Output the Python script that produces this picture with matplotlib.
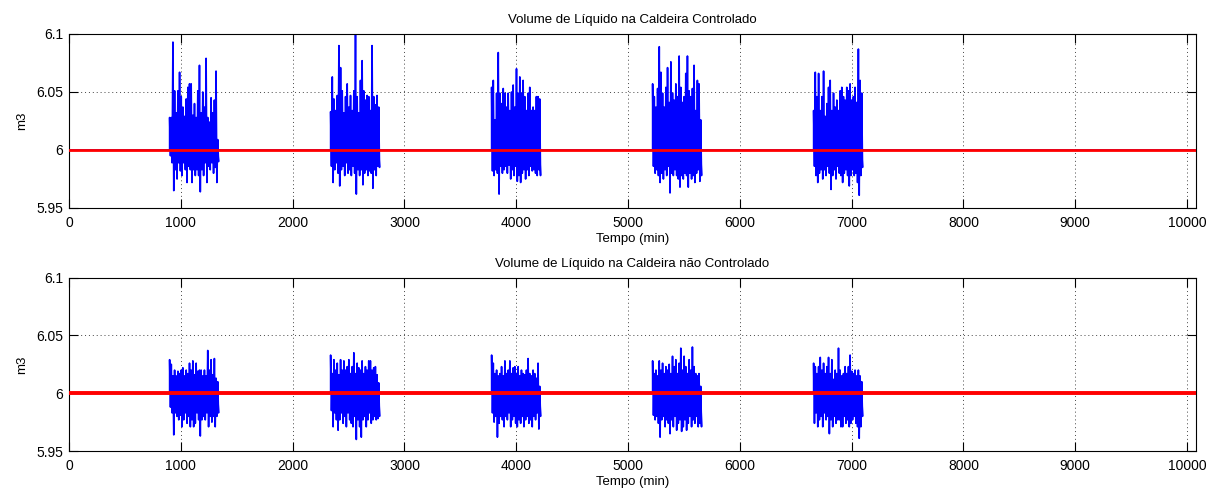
import numpy as np
import matplotlib
matplotlib.use("Agg")
import matplotlib.pyplot as plt

# ---------------- data ----------------
setpoint = 6.0
t_end = 10080
burst_starts = [900, 2340, 3780, 5220, 6660]
burst_len = [430, 430, 430, 430, 430]

# controlled (top) - upper / lower envelope read per burst
ctrl_b1_hi = [6.028, 6.028, 6.093, 6.051, 6.032, 6.051, 6.067, 6.046, 6.037, 6.029, 6.044, 6.054, 6.057, 6.057, 6.030,
              6.040, 6.028, 6.051, 6.073, 6.032, 6.050, 6.037, 6.079, 6.028, 6.024, 6.045, 6.032, 6.043, 6.068, 6.009]
ctrl_b1_lo = [5.995, 5.989, 5.965, 5.983, 5.975, 5.989, 5.982, 5.978, 5.989, 5.983, 5.972, 5.986, 5.983, 5.972, 5.983,
              5.978, 5.983, 5.978, 5.964, 5.983, 5.978, 5.989, 5.972, 5.986, 5.983, 5.989, 5.980, 5.985, 5.972, 5.990]
ctrl_b2_hi = [6.033, 6.063, 6.044, 6.034, 6.047, 6.090, 6.071, 6.051, 6.032, 6.046, 6.057, 6.037, 6.047, 6.034, 6.051,
              6.100, 6.046, 6.032, 6.060, 6.077, 6.051, 6.043, 6.047, 6.046, 6.034, 6.090, 6.046, 6.039, 6.047, 6.037]
ctrl_b2_lo = [5.986, 5.972, 5.983, 5.989, 5.980, 5.969, 5.983, 5.986, 5.978, 5.989, 5.980, 5.983, 5.978, 5.986, 5.980,
              5.962, 5.983, 5.978, 5.983, 5.970, 5.980, 5.983, 5.978, 5.982, 5.980, 5.967, 5.983, 5.978, 5.986, 5.985]
ctrl_b3_hi = [6.054, 6.060, 6.026, 6.049, 6.084, 6.049, 6.040, 6.053, 6.049, 6.037, 6.049, 6.034, 6.050, 6.056, 6.037,
              6.070, 6.049, 6.063, 6.049, 6.060, 6.046, 6.034, 6.049, 6.054, 6.034, 6.037, 6.034, 6.046, 6.046, 6.044]
ctrl_b3_lo = [5.982, 5.978, 5.983, 5.980, 5.962, 5.986, 5.980, 5.983, 5.986, 5.980, 5.987, 5.975, 5.983, 5.978, 5.986,
              5.973, 5.978, 5.972, 5.980, 5.983, 5.975, 5.983, 5.978, 5.986, 5.982, 5.983, 5.980, 5.978, 5.983, 5.978]
ctrl_b4_hi = [6.057, 6.046, 6.037, 6.053, 6.089, 6.067, 6.049, 6.037, 6.054, 6.071, 6.041, 6.076, 6.049, 6.043, 6.057,
              6.046, 6.081, 6.054, 6.041, 6.046, 6.066, 6.081, 6.051, 6.046, 6.053, 6.073, 6.034, 6.060, 6.057, 6.026]
ctrl_b4_lo = [5.986, 5.980, 5.983, 5.978, 5.972, 5.980, 5.975, 5.983, 5.978, 5.986, 5.963, 5.980, 5.978, 5.983, 5.978,
              5.975, 5.968, 5.978, 5.975, 5.980, 5.978, 5.968, 5.980, 5.975, 5.978, 5.972, 5.980, 5.983, 5.973, 5.978]
ctrl_b5_hi = [6.034, 6.067, 6.046, 6.066, 6.034, 6.046, 6.068, 6.029, 6.040, 6.054, 6.060, 6.034, 6.049, 6.037, 6.043,
              6.034, 6.051, 6.054, 6.046, 6.043, 6.054, 6.051, 6.057, 6.043, 6.046, 6.054, 6.041, 6.087, 6.060, 6.049]
ctrl_b5_lo = [5.986, 5.978, 5.972, 5.980, 5.983, 5.975, 5.983, 5.978, 5.986, 5.980, 5.966, 5.978, 5.983, 5.975, 5.986,
              5.980, 5.978, 5.972, 5.980, 5.983, 5.978, 5.969, 5.978, 5.983, 5.978, 5.980, 5.972, 5.961, 5.978, 5.985]

# not controlled (bottom)
unc_b1_hi = [6.029, 6.025, 6.015, 6.020, 6.015, 6.019, 6.017, 6.020, 6.022, 6.015, 6.020, 6.017, 6.026, 6.020, 6.028,
             6.016, 6.026, 6.019, 6.020, 6.020, 6.015, 6.020, 6.015, 6.037, 6.020, 6.029, 6.016, 6.030, 6.013, 6.010]
unc_b1_lo = [5.988, 5.983, 5.964, 5.983, 5.980, 5.977, 5.981, 5.971, 5.977, 5.983, 5.974, 5.980, 5.971, 5.977, 5.971,
             5.974, 5.983, 5.977, 5.963, 5.977, 5.980, 5.977, 5.983, 5.971, 5.980, 5.975, 5.980, 5.971, 5.980, 5.983]
unc_b2_hi = [6.033, 6.017, 6.029, 6.020, 6.026, 6.016, 6.029, 6.020, 6.028, 6.020, 6.023, 6.029, 6.017, 6.023, 6.035,
             6.017, 6.026, 6.022, 6.020, 6.028, 6.017, 6.023, 6.020, 6.028, 6.028, 6.020, 6.022, 6.023, 6.016, 6.009]
unc_b2_lo = [5.985, 5.971, 5.983, 5.977, 5.968, 5.977, 5.983, 5.974, 5.980, 5.971, 5.983, 5.977, 5.974, 5.971, 5.980,
             5.960, 5.977, 5.971, 5.962, 5.977, 5.980, 5.971, 5.977, 5.983, 5.974, 5.977, 5.980, 5.977, 5.978, 5.980]
unc_b3_hi = [6.033, 6.026, 6.017, 6.020, 6.015, 6.017, 6.023, 6.015, 6.028, 6.017, 6.020, 6.028, 6.017, 6.022, 6.023,
             6.017, 6.023, 6.015, 6.020, 6.017, 6.016, 6.020, 6.030, 6.017, 6.015, 6.020, 6.017, 6.013, 6.026, 6.006]
unc_b3_lo = [5.983, 5.975, 5.980, 5.962, 5.974, 5.980, 5.977, 5.971, 5.980, 5.977, 5.983, 5.971, 5.977, 5.980, 5.974,
             5.971, 5.977, 5.974, 5.980, 5.971, 5.977, 5.980, 5.974, 5.977, 5.971, 5.980, 5.977, 5.983, 5.969, 5.980]
unc_b4_hi = [6.028, 6.017, 6.020, 6.015, 6.028, 6.020, 6.026, 6.017, 6.023, 6.020, 6.025, 6.017, 6.032, 6.023, 6.029,
             6.017, 6.026, 6.039, 6.020, 6.032, 6.023, 6.017, 6.029, 6.020, 6.040, 6.023, 6.017, 6.015, 6.017, 6.006]
unc_b4_lo = [5.981, 5.977, 5.980, 5.974, 5.962, 5.977, 5.980, 5.971, 5.977, 5.974, 5.965, 5.977, 5.971, 5.980, 5.968,
             5.974, 5.977, 5.967, 5.971, 5.977, 5.968, 5.974, 5.980, 5.971, 5.977, 5.974, 5.980, 5.971, 5.974, 5.971]
unc_b5_hi = [6.026, 6.023, 6.017, 6.023, 6.031, 6.020, 6.026, 6.017, 6.023, 6.031, 6.017, 6.029, 6.012, 6.020, 6.017,
             6.039, 6.020, 6.015, 6.017, 6.023, 6.017, 6.023, 6.033, 6.019, 6.017, 6.020, 6.015, 6.020, 6.015, 6.010]
unc_b5_lo = [5.974, 5.983, 5.971, 5.977, 5.980, 5.971, 5.983, 5.977, 5.980, 5.965, 5.977, 5.971, 5.980, 5.974, 5.977,
             5.977, 5.971, 5.971, 5.980, 5.974, 5.977, 5.971, 5.974, 5.977, 5.980, 5.974, 5.971, 5.961, 5.971, 5.980]

ctrl_bursts = [(ctrl_b1_hi, ctrl_b1_lo), (ctrl_b2_hi, ctrl_b2_lo), (ctrl_b3_hi, ctrl_b3_lo),
               (ctrl_b4_hi, ctrl_b4_lo), (ctrl_b5_hi, ctrl_b5_lo)]
unc_bursts = [(unc_b1_hi, unc_b1_lo), (unc_b2_hi, unc_b2_lo), (unc_b3_hi, unc_b3_lo),
              (unc_b4_hi, unc_b4_lo), (unc_b5_hi, unc_b5_lo)]

titles = ["Volume de Líquido na Caldeira Controlado",
          "Volume de Líquido na Caldeira não Controlado"]
xlabel = "Tempo (min)"
ylabel = "m3"
xticks = [0, 1000, 2000, 3000, 4000, 5000, 6000, 7000, 8000, 9000, 10000]
yticks = [5.95, 6.0, 6.05, 6.1]
ytick_labels = ["5.95", "6", "6.05", "6.1"]


def build_series(bursts):
    xs, ys = [0.0], [setpoint]
    for (hi, lo), s, L in zip(bursts, burst_starts, burst_len):
        n = len(hi)
        pos = np.linspace(s, s + L, n)
        half = L / (n - 1) / 2.0
        xs.append(s); ys.append(setpoint)
        for p, h, l in zip(pos, hi, lo):
            xs += [p, p + half]
            ys += [h, l]
        xs.append(s + L); ys.append(setpoint)
    xs.append(t_end); ys.append(setpoint)
    return np.array(xs), np.array(ys)


plt.rcParams['font.family'] = ['Liberation Sans', 'DejaVu Sans']
fig = plt.figure(figsize=(12.16, 4.93), dpi=100)
fig.patch.set_facecolor('white')

left, right = 69 / 1216, 1196 / 1216
rects = [(left, 1 - 208 / 493, right - left, (208 - 34) / 493),
         (left, 1 - 451 / 493, right - left, (451 - 277.7) / 493)]
red_lw = [2.0, 2.8]

for i, (rect, bursts) in enumerate(zip(rects, [ctrl_bursts, unc_bursts])):
    ax = fig.add_axes(rect)
    x, y = build_series(bursts)
    ax.plot(x, y, color=(0, 0, 1), lw=1.2, zorder=2)
    ax.plot([0, t_end], [setpoint, setpoint], color=(1, 0, 0), lw=red_lw[i], zorder=3)
    ax.set_xlim(0, t_end)
    ax.set_ylim(5.95, 6.1)
    ax.set_xticks(xticks)
    ax.set_xticklabels([str(t) for t in xticks])
    ax.set_yticks(yticks)
    ax.set_yticklabels(ytick_labels)
    ax.grid(True, color='#444444', linestyle=(0, (1, 3)), lw=0.7)
    ax.set_axisbelow(True)
    ax.tick_params(direction='in', top=True, right=True, length=6.5, width=0.8,
                   labelsize=10, colors='black')
    ax.tick_params(axis='x', pad=6)
    ax.tick_params(axis='y', pad=4)
    for sp in ax.spines.values():
        sp.set_linewidth(0.8)
        sp.set_color('black')
    ax.set_title(titles[i], fontsize=9.5, pad=8)
    ax.set_xlabel(xlabel, fontsize=9.5, labelpad=2)
    ax.set_ylabel(ylabel, fontsize=9.5, labelpad=6)

fig.savefig("out.png", dpi=100, facecolor='white')
